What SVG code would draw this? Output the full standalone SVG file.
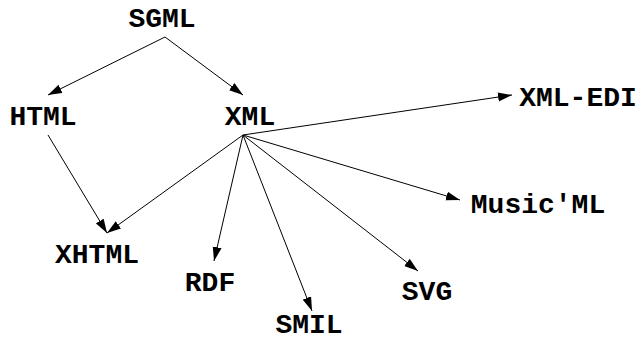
<svg xmlns="http://www.w3.org/2000/svg" width="642" height="342" viewBox="0 0 642 342">
  <style>
    .lbl { font-family: "Liberation Mono", "Courier New", monospace; font-weight: bold; font-size: 28px; fill: #000; text-anchor: middle; }
    .edge { stroke: #000; stroke-width: 1; fill: none; marker-end: url(#arrow); }
  </style>
  <defs>
    <marker id="arrow" markerUnits="userSpaceOnUse" markerWidth="15" markerHeight="10" refX="14" refY="5" orient="auto">
      <path d="M0,0.5 L14,5 L0,9.5 Z" fill="#000"/>
    </marker>
  </defs>
  <rect width="642" height="342" fill="#fff"/>

  <g id="edges">
    <line class="edge" x1="165" y1="37" x2="48" y2="95"/>
    <line class="edge" x1="165" y1="37" x2="243" y2="95"/>
    <line class="edge" x1="48" y1="135" x2="107" y2="233"/>
    <line class="edge" x1="243" y1="135" x2="107" y2="233"/>
    <line class="edge" x1="243" y1="135" x2="214" y2="261"/>
    <line class="edge" x1="243" y1="135" x2="312" y2="311"/>
    <line class="edge" x1="243" y1="135" x2="418" y2="271"/>
    <line class="edge" x1="243" y1="135" x2="460" y2="200"/>
    <line class="edge" x1="243" y1="135" x2="512" y2="95"/>
  </g>

  <g id="SGML"><text class="lbl" x="162" y="27">SGML</text></g>
  <g id="HTML"><text class="lbl" x="43" y="125">HTML</text></g>
  <g id="XML"><text class="lbl" x="250" y="125">XML</text></g>
  <g id="XML-EDI"><text class="lbl" x="578" y="106">XML-EDI</text></g>
  <g id="MusicML"><text class="lbl" x="538" y="213">Music'ML</text></g>
  <g id="XHTML"><text class="lbl" x="97" y="263">XHTML</text></g>
  <g id="RDF"><text class="lbl" x="210" y="291">RDF</text></g>
  <g id="SMIL"><text class="lbl" x="309" y="333">SMIL</text></g>
  <g id="SVG"><text class="lbl" x="427" y="300">SVG</text></g>
</svg>
